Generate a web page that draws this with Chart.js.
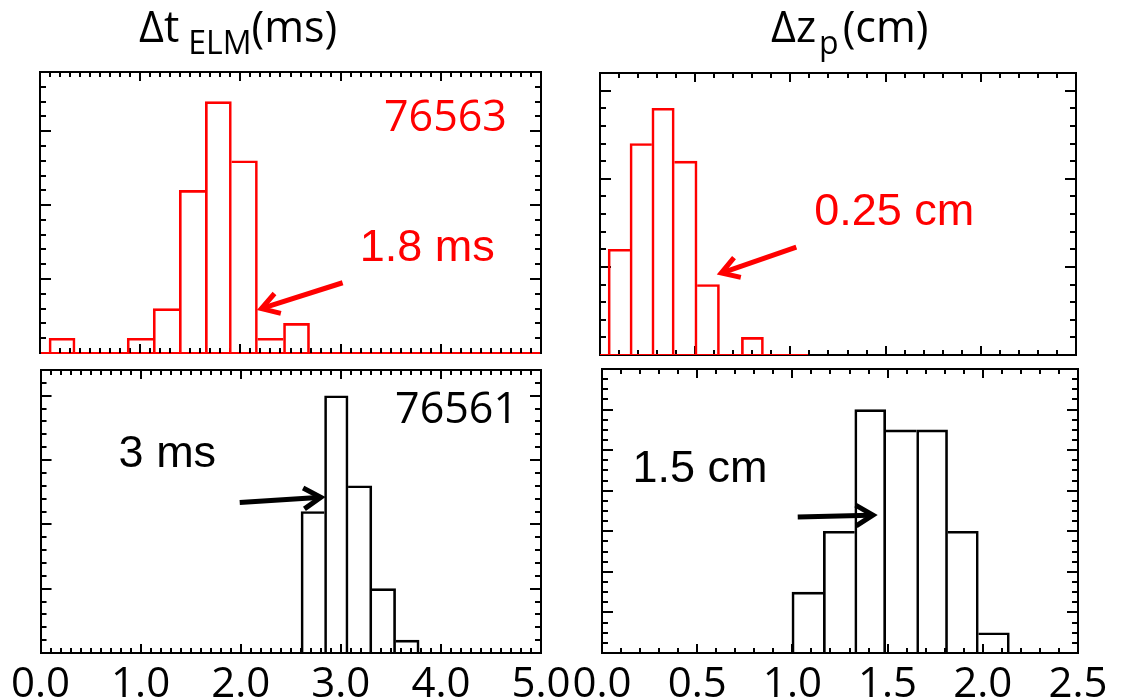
<!DOCTYPE html>
<html>
<head>
<meta charset="utf-8">
<script src="https://cdn.jsdelivr.net/npm/chart.js@4.4.0/dist/chart.umd.min.js"></script>
<style>
  body { margin: 0; background: #fff; }
  #wrap { position: relative; width: 1148px; height: 699px; overflow: hidden; }
  #wrap canvas { position: absolute; left: 0; top: 0; }
  .ttl { position: absolute; font-family: 'Open Sans'; font-size: 43px; line-height: 1; color: #000; white-space: nowrap; }
  .ttl .sub { font-size: 32px; position: relative; top: 12px; }
</style>
</head>
<body>
<div id="wrap">
  <canvas id="tl" width="1148" height="699"></canvas>
  <canvas id="bl" width="1148" height="699"></canvas>
  <canvas id="tr" width="1148" height="699"></canvas>
  <canvas id="br" width="1148" height="699"></canvas>
  <div class="ttl" style="left:139px; top:4px;">Δt<span class="sub" style="margin:0 0 0 9px;">ELM</span>(ms)</div>
  <div class="ttl" style="left:771px; top:4px;">Δz<span class="sub" style="margin:0 4px 0 3px;">p</span>(cm)</div>
</div>
<script>
// Δt_ELM (ms) histogram, shot 76563 (red, top left): bin centres and counts
const dtCenters76563 = [0.22, 0.48, 0.74, 1.00, 1.26, 1.52, 1.78, 2.04, 2.30, 2.56];
const dtCounts76563 = [1, 0, 0, 1, 3, 11, 17, 13, 1, 2];

// Δt_ELM (ms), shot 76561 (black, bottom left)
const dtCenters76561 = [2.72, 2.955, 3.19, 3.43, 3.665];
const dtCounts76561 = [11, 20, 13, 5, 1];

// Δz_p (cm), shot 76563 (red, top right)
const dzCenters76563 = [0.10, 0.215, 0.33, 0.45, 0.57, 0.685, 0.80, 0.917, 1.034];
const dzCounts76563 = [6, 12, 14, 11, 4, 0, 1, 0, 0];

// Δz_p (cm), shot 76561 (black, bottom right)
const dzCenters76561 = [1.08, 1.245, 1.41, 1.57, 1.735, 1.895, 2.058];
const dzCounts76561 = [6, 12, 24, 22, 22, 12, 2];

const RED = '#ff0000';
const BLACK = '#000000';

// outline bars; a shared edge is drawn only by the taller neighbour
function histBars(centers, counts, color) {
    return {
        type: 'bar',
        data: centers.map((c, i) => ({x: c, y: counts[i]})),
        backgroundColor: 'transparent',
        borderColor: color,
        borderSkipped: false,
        borderWidth: (ctx) => {
            const i = ctx.dataIndex, h = counts[i];
            const prev = i > 0 ? counts[i - 1] : 0;
            const next = i < counts.length - 1 ? counts[i + 1] : 0;
            return {top: 2, bottom: 0, left: h >= prev ? 2 : 0, right: h > next ? 2 : 0};
        },
        barThickness: 'flex',
        barPercentage: 1,
        categoryPercentage: 1
    };
}

// inward tick marks on all four sides of the frame
const frameTicks = {
    id: 'frameTicks',
    beforeDatasetsDraw(chart, args, opts) {
        const {ctx, chartArea: a, scales: {x, y}} = chart;
        const isMajor = (v, step) => Math.abs(v / step - Math.round(v / step)) < 1e-6;
        ctx.save();
        ctx.strokeStyle = BLACK;
        ctx.lineWidth = 2;
        ctx.beginPath();
        const nx = Math.round((x.max - x.min) / opts.xMinor);
        for (let i = 1; i < nx; i++) {
            const v = x.min + i * opts.xMinor;
            const px = Math.round(x.getPixelForValue(v));
            const len = isMajor(v, opts.xMajor) ? 9 : 5;
            ctx.moveTo(px, a.bottom); ctx.lineTo(px, a.bottom - len);
            ctx.moveTo(px, a.top); ctx.lineTo(px, a.top + len);
        }
        const ny = Math.round((y.max - y.min) / opts.yMinor);
        for (let i = 1; i < ny; i++) {
            const v = y.min + i * opts.yMinor;
            const py = Math.round(y.getPixelForValue(v));
            const len = isMajor(v, opts.yMajor) ? 11 : 6;
            ctx.moveTo(a.left, py); ctx.lineTo(a.left + len, py);
            ctx.moveTo(a.right, py); ctx.lineTo(a.right - len, py);
        }
        ctx.stroke();
        ctx.restore();
    }
};

// shot numbers, median labels and arrows
const notes = {
    id: 'notes',
    afterDraw(chart, args, opts) {
        const {ctx, scales: {x, y}} = chart;
        ctx.save();
        (opts.texts || []).forEach(t => {
            ctx.font = t.font;
            ctx.fillStyle = t.color;
            ctx.textAlign = t.align;
            ctx.textBaseline = 'alphabetic';
            ctx.fillText(t.text, x.getPixelForValue(t.x), y.getPixelForValue(t.y));
        });
        (opts.arrows || []).forEach(ar => {
            const x0 = x.getPixelForValue(ar.from[0]), y0 = y.getPixelForValue(ar.from[1]);
            const x1 = x.getPixelForValue(ar.to[0]), y1 = y.getPixelForValue(ar.to[1]);
            const ang = Math.atan2(y1 - y0, x1 - x0);
            ctx.strokeStyle = ar.color;
            ctx.lineWidth = 5;
            ctx.beginPath();
            ctx.moveTo(x0, y0);
            ctx.lineTo(x1 - 3 * Math.cos(ang), y1 - 3 * Math.sin(ang));
            ctx.stroke();
            ctx.beginPath();
            ctx.moveTo(x1 - 20 * Math.cos(ang - 0.55), y1 - 20 * Math.sin(ang - 0.55));
            ctx.lineTo(x1, y1);
            ctx.lineTo(x1 - 20 * Math.cos(ang + 0.55), y1 - 20 * Math.sin(ang + 0.55));
            ctx.stroke();
        });
        ctx.restore();
    }
};

function panel(id, o) {
    const frame = {color: BLACK, width: 2};
    const hidden = {display: false, drawTicks: false};
    new Chart(document.getElementById(id), {
        type: 'bar',
        data: {datasets: o.datasets},
        options: {
            responsive: false,
            animation: false,
            events: [],
            layout: {padding: o.pad},
            plugins: {
                legend: {display: false},
                tooltip: {enabled: false},
                frameTicks: o.ticks,
                notes: o.notes
            },
            scales: {
                x: {
                    type: 'linear', position: 'bottom', min: 0, max: o.xMax, offset: false,
                    grid: hidden,
                    border: {color: o.baseColor || BLACK, width: 2},
                    ticks: o.labels ? {
                        display: true, stepSize: o.ticks.xMajor, autoSkip: false, maxRotation: 0,
                        padding: 11, color: BLACK,
                        font: {family: 'Open Sans', size: 42, lineHeight: 1},
                        callback: v => v.toFixed(1)
                    } : {display: false},
                    afterFit: o.labels ? (s) => { s.height = 46; } : undefined
                },
                x2: {
                    type: 'linear', position: 'top', min: 0, max: o.xMax, offset: false,
                    grid: hidden, border: frame, ticks: {display: false}
                },
                y: {
                    type: 'linear', position: 'left', min: 0, max: o.yMax,
                    grid: hidden, border: frame, ticks: {display: false}
                },
                y2: {
                    type: 'linear', position: 'right', min: 0, max: o.yMax,
                    grid: hidden, border: frame, ticks: {display: false}
                }
            }
        },
        plugins: [frameTicks, notes]
    });
}

const bigNum = '43px "Open Sans"';
const bigTxt = '45px "Liberation Sans", Arial, sans-serif';

panel('tl', {
    datasets: [histBars(dtCenters76563, dtCounts76563, RED)],
    pad: {left: 40, top: 72, right: 607, bottom: 346},
    xMax: 5, yMax: 19, baseColor: RED,
    ticks: {xMinor: 0.1, xMajor: 1, yMinor: 1, yMajor: 5},
    notes: {
        texts: [
            {text: '76563', x: 4.66, y: 15.0, align: 'right', color: RED, font: bigNum},
            {text: '1.8 ms', x: 3.19, y: 6.25, align: 'left', color: RED, font: bigTxt}
        ],
        arrows: [{from: [3.02, 4.75], to: [2.21, 3.0], color: RED}]
    }
});

panel('bl', {
    datasets: [histBars(dtCenters76561, dtCounts76561, BLACK)],
    pad: {left: 40, top: 370, right: 607, bottom: 0},
    xMax: 5, yMax: 22, labels: true,
    ticks: {xMinor: 0.1, xMajor: 1, yMinor: 1, yMajor: 5},
    notes: {
        texts: [
            {text: '76561', x: 4.77, y: 17.85, align: 'right', color: BLACK, font: bigNum},
            {text: '3 ms', x: 0.78, y: 14.43, align: 'left', color: BLACK, font: bigTxt}
        ],
        arrows: [{from: [1.99, 11.7], to: [2.80, 12.1], color: BLACK}]
    }
});

// red baseline under the Δz_p 76563 bins
const dzLast = dzCenters76563.length - 1;
const dzEnd = dzCenters76563[dzLast] + (dzCenters76563[dzLast] - dzCenters76563[dzLast - 1]) / 2;

panel('tr', {
    datasets: [
        histBars(dzCenters76563, dzCounts76563, RED),
        {type: 'line', data: [{x: 0, y: 0}, {x: dzEnd, y: 0}], borderColor: RED, borderWidth: 2, pointRadius: 0}
    ],
    pad: {left: 600, top: 73, right: 72, bottom: 344},
    xMax: 2.5, yMax: 16,
    ticks: {xMinor: 0.1, xMajor: 0.5, yMinor: 1, yMajor: 5},
    notes: {
        texts: [{text: '0.25 cm', x: 1.125, y: 7.37, align: 'left', color: RED, font: bigTxt}],
        arrows: [{from: [1.031, 6.12], to: [0.637, 4.65], color: RED}]
    }
});

panel('br', {
    datasets: [histBars(dzCenters76561, dzCounts76561, BLACK)],
    pad: {left: 602, top: 369, right: 70, bottom: 0},
    xMax: 2.5, yMax: 28, labels: true,
    ticks: {xMinor: 0.1, xMajor: 0.5, yMinor: 1, yMajor: 4},
    notes: {
        texts: [{text: '1.5 cm', x: 0.16, y: 16.87, align: 'left', color: BLACK, font: bigTxt}],
        arrows: [{from: [1.028, 13.4], to: [1.423, 13.6], color: BLACK}]
    }
});
</script>
</body>
</html>
